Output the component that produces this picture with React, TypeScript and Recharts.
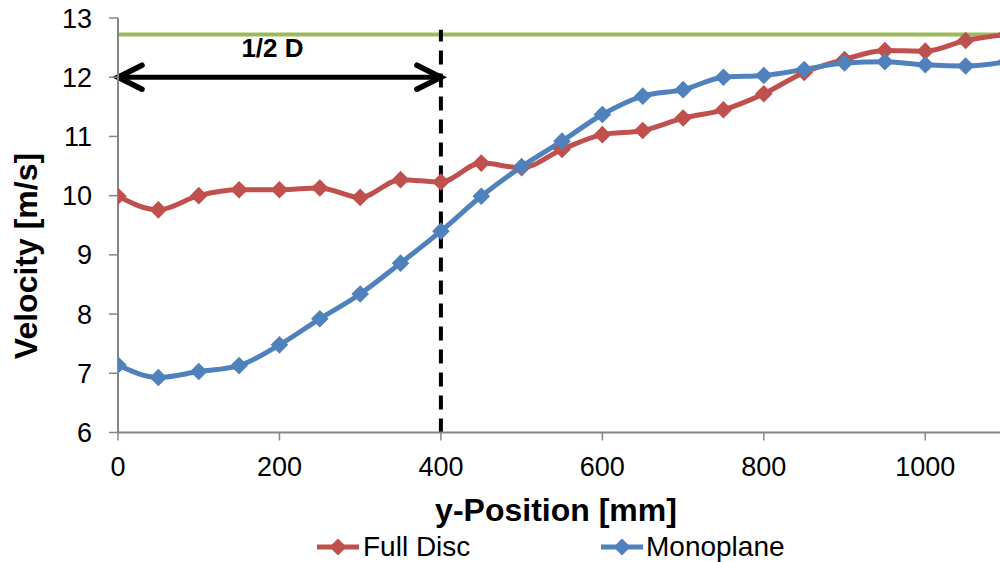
import React from 'react';
import { LineChart, Line, XAxis, YAxis, ReferenceLine, Label } from 'recharts';

const positions = [0, 50, 100, 150, 200, 250, 300, 350, 400, 450, 500, 550, 600, 650, 700, 750, 800, 850, 900, 950, 1000, 1050, 1100];
const fullDisc = [9.99, 9.76, 10.0, 10.1, 10.1, 10.13, 9.97, 10.27, 10.23, 10.55, 10.47, 10.78, 11.03, 11.1, 11.31, 11.45, 11.72, 12.08, 12.3, 12.45, 12.44, 12.62, 12.72];
const monoplane = [7.14, 6.93, 7.03, 7.13, 7.48, 7.92, 8.34, 8.86, 9.4, 9.99, 10.49, 10.92, 11.37, 11.68, 11.79, 12.0, 12.03, 12.13, 12.24, 12.26, 12.21, 12.19, 12.26];
const xTicks = [0, 200, 400, 600, 800, 1000];
const yTicks = [6, 7, 8, 9, 10, 11, 12, 13];
const freeStream = 12.72;
const halfD = 400;
const arrowY = 12;
const seriesNames = ['Full Disc', 'Monoplane'];

const RED = '#C0504D';
const BLUE = '#4F81BD';
const GREEN = '#9BBB59';
const AXIS = '#868686';
const FONT = '"Liberation Sans", Arial, Helvetica, sans-serif';

const data = positions.map((p, i) => ({ pos: p, full: fullDisc[i], mono: monoplane[i] }));

const makeDiamond = (color: string) => (props: any) => {
  const { cx, cy, index } = props;
  if (cx == null || cy == null) return <g key={index} />;
  const r = 8.8;
  return (
    <path
      key={index}
      d={`M${cx},${cy - r}L${cx + r},${cy}L${cx},${cy + r}L${cx - r},${cy}Z`}
      fill={color}
      stroke="none"
    />
  );
};

const ArrowShape = (props: any) => {
  const { x1, y1, x2, y2 } = props;
  const a = 24;
  const b = 12;
  const midX = (x1 + x2) / 2;
  return (
    <g>
      <line x1={x1} y1={y1} x2={x2} y2={y2} stroke="#000" strokeWidth={5} />
      <polyline
        points={`${x1 + a},${y1 - b} ${x1},${y1} ${x1 + a},${y1 + b}`}
        fill="none"
        stroke="#000"
        strokeWidth={5.5}
        strokeLinecap="round"
        strokeLinejoin="miter"
      />
      <polyline
        points={`${x2 - a},${y2 - b} ${x2},${y2} ${x2 - a},${y2 + b}`}
        fill="none"
        stroke="#000"
        strokeWidth={5.5}
        strokeLinecap="round"
        strokeLinejoin="miter"
      />
      <text
        x={midX - 7}
        y={y1 - 20}
        textAnchor="middle"
        fontFamily={FONT}
        fontWeight="bold"
        fontSize={26}
        fill="#000"
      >
        1/2 D
      </text>
    </g>
  );
};

const LegendIcon = ({ color }: { color: string }) => (
  <svg width={42} height={20} style={{ display: 'block' }}>
    <line x1={0} y1={10} x2={42} y2={10} stroke={color} strokeWidth={5} />
    <path d="M21,1.5L29.5,10L21,18.5L12.5,10Z" fill={color} />
  </svg>
);

export default function App() {
  return (
    <div
      style={{
        position: 'absolute',
        left: 0,
        top: 0,
        width: 1000,
        height: 562,
        overflow: 'hidden',
        background: '#fff',
        fontFamily: FONT,
      }}
    >
      <LineChart
        width={1010}
        height={562}
        data={data}
        margin={{ top: 18, right: 4, bottom: 0, left: 0 }}
      >
        <XAxis
          dataKey="pos"
          type="number"
          domain={[0, 1100]}
          ticks={xTicks}
          allowDataOverflow
          height={129.5}
          tickSize={8}
          tickMargin={16}
          stroke={AXIS}
          strokeWidth={2}
          tick={{ fill: '#000', fontSize: 27, fontFamily: FONT }}
          tickLine={{ stroke: AXIS, strokeWidth: 1.5 }}
        >
          <Label
            content={() => (
              <text
                x={556}
                y={521}
                textAnchor="middle"
                fontFamily={FONT}
                fontWeight="bold"
                fontSize={32}
                fill="#000"
              >
                y-Position [mm]
              </text>
            )}
          />
        </XAxis>
        <YAxis
          type="number"
          domain={[6, 13]}
          ticks={yTicks}
          width={118}
          tickSize={9}
          tickMargin={17}
          stroke={AXIS}
          strokeWidth={2}
          tick={{ fill: '#000', fontSize: 27, fontFamily: FONT }}
          tickLine={{ stroke: AXIS, strokeWidth: 1.5 }}
        >
          <Label
            content={() => (
              <text
                x={37}
                y={256}
                transform="rotate(-90 37 256)"
                textAnchor="middle"
                fontFamily={FONT}
                fontWeight="bold"
                fontSize={32}
                fill="#000"
              >
                Velocity [m/s]
              </text>
            )}
          />
        </YAxis>
        <ReferenceLine y={freeStream} stroke={GREEN} strokeWidth={4} />
        <Line
          type="monotone"
          dataKey="full"
          name={seriesNames[0]}
          stroke={RED}
          strokeWidth={5}
          dot={makeDiamond(RED)}
          activeDot={false}
          isAnimationActive={false}
        />
        <Line
          type="monotone"
          dataKey="mono"
          name={seriesNames[1]}
          stroke={BLUE}
          strokeWidth={5}
          dot={makeDiamond(BLUE)}
          activeDot={false}
          isAnimationActive={false}
        />
        <ReferenceLine
          segment={[{ x: halfD, y: 6 }, { x: halfD, y: 12.8 }]}
          stroke="#000"
          strokeWidth={4}
          strokeDasharray="14 9"
        />
        <ReferenceLine
          segment={[{ x: 0, y: arrowY }, { x: halfD, y: arrowY }]}
          stroke="#000"
          shape={ArrowShape}
        />
      </LineChart>
      <div
        style={{
          position: 'absolute',
          left: 317,
          top: 531,
          display: 'flex',
          alignItems: 'center',
          fontSize: 28,
          lineHeight: '32px',
          color: '#000',
        }}
      >
        <LegendIcon color={RED} />
        <span style={{ marginLeft: 4 }}>{seriesNames[0]}</span>
      </div>
      <div
        style={{
          position: 'absolute',
          left: 601,
          top: 531,
          display: 'flex',
          alignItems: 'center',
          fontSize: 28,
          lineHeight: '32px',
          color: '#000',
        }}
      >
        <LegendIcon color={BLUE} />
        <span style={{ marginLeft: 3 }}>{seriesNames[1]}</span>
      </div>
    </div>
  );
}
